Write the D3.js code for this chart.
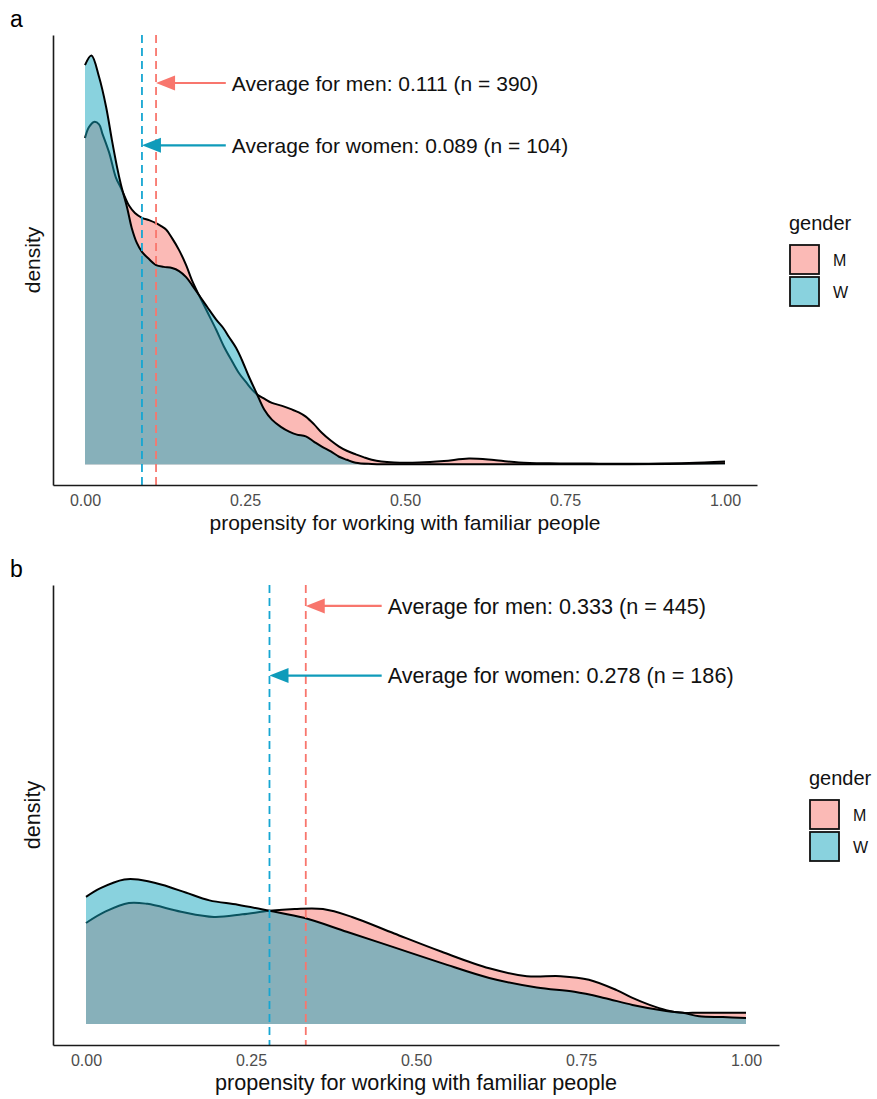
<!DOCTYPE html>
<html lang="en">
<head>
    <meta charset="UTF-8">
    <title>Propensity density by gender</title>
    <script src="https://d3js.org/d3.v7.min.js"></script>
    <style>
        body { margin: 0; background: #fff; }
        svg { display: block; font-family: "Liberation Sans", Arial, sans-serif; }
        .tick text { fill: #4d4d4d; }
    </style>
</head>
<body>
<svg id="chart" width="877" height="1099"></svg>
<script>
    // ---- data ----
    const genders = ["M", "W"];
    const genderWords = ["men", "women"];
    const tickValues = [0, 0.25, 0.5, 0.75, 1];
    const tickLabels = ["0.00", "0.25", "0.50", "0.75", "1.00"];

    // panel a densities: [x, density]
    const menA = [[0,5.45],[0.006,5.63],[0.014,5.72],[0.022,5.68],[0.027,5.53],[0.038,5.20],[0.048,4.80],
        [0.056,4.62],[0.063,4.45],[0.069,4.32],[0.078,4.20],[0.089,4.12],[0.100,4.08],[0.111,4.03],
        [0.119,3.98],[0.127,3.92],[0.136,3.78],[0.147,3.58],[0.158,3.33],[0.167,3.08],[0.178,2.83],
        [0.191,2.55],[0.205,2.25],[0.217,1.97],[0.230,1.72],[0.241,1.52],[0.252,1.37],[0.261,1.25],
        [0.269,1.17],[0.280,1.10],[0.292,1.03],[0.308,0.98],[0.323,0.92],[0.334,0.87],[0.345,0.80],
        [0.358,0.67],[0.370,0.53],[0.384,0.40],[0.397,0.30],[0.409,0.23],[0.423,0.17],[0.436,0.12],
        [0.448,0.08],[0.463,0.05],[0.483,0.035],[0.522,0.035],[0.561,0.06],[0.600,0.10],[0.639,0.075],
        [0.678,0.035],[0.725,0.02],[0.803,0.015],[0.881,0.015],[0.944,0.025],[1.0,0.05]];
    const womenA = [[0,6.67],[0.010,6.83],[0.022,6.47],[0.033,5.97],[0.042,5.42],[0.050,4.97],[0.056,4.68],
        [0.066,4.28],[0.073,3.95],[0.081,3.70],[0.089,3.55],[0.100,3.43],[0.111,3.33],[0.123,3.30],
        [0.136,3.28],[0.147,3.23],[0.158,3.13],[0.167,3.00],[0.178,2.83],[0.191,2.63],[0.205,2.42],
        [0.216,2.28],[0.225,2.13],[0.236,1.95],[0.245,1.75],[0.256,1.47],[0.269,1.17],[0.280,0.92],
        [0.292,0.75],[0.306,0.63],[0.319,0.55],[0.331,0.50],[0.345,0.47],[0.358,0.38],[0.370,0.30],
        [0.384,0.22],[0.397,0.13],[0.409,0.08],[0.423,0.03],[0.448,0.01],[0.55,0.005],[0.7,0.005],
        [0.85,0.005],[1.0,0.02]];

    // panel b densities: [x, density]
    const menB = [[0,1.16],[0.029,1.29],[0.065,1.39],[0.093,1.38],[0.144,1.29],[0.194,1.23],[0.237,1.26],
        [0.278,1.30],[0.316,1.32],[0.359,1.32],[0.403,1.23],[0.467,1.04],[0.539,0.83],[0.611,0.64],
        [0.668,0.55],[0.719,0.55],[0.762,0.51],[0.804,0.39],[0.828,0.30],[0.854,0.22],[0.879,0.16],
        [0.904,0.13],[0.929,0.13],[1.0,0.13]];
    const womenB = [[0,1.46],[0.022,1.56],[0.058,1.66],[0.079,1.66],[0.115,1.60],[0.151,1.51],[0.187,1.42],
        [0.230,1.37],[0.278,1.30],[0.330,1.22],[0.395,1.06],[0.467,0.88],[0.539,0.70],[0.611,0.53],
        [0.683,0.42],[0.740,0.37],[0.785,0.30],[0.828,0.22],[0.879,0.15],[0.904,0.13],[0.929,0.09],
        [0.965,0.08],[1.0,0.07]];

    // averages, counts and annotation placement (arrow start x, label y in density units)
    const meansA = [0.111, 0.089];
    const countsA = [390, 104];
    const labelYA = [6.37, 5.33];
    const arrowStartA = 0.22;
    const meansB = [0.333, 0.278];
    const countsB = [445, 186];
    const labelYB = [4.8, 4.0];
    const arrowStartB = 0.448;

    // ---- styling ----
    const fillColors = ["#F8766D", "#13A5BD"];
    const dashColors = ["#F8766D", "#16A6D2"];
    const arrowColors = ["#F8766D", "#0F9BBA"];

    const svg = d3.select("#chart");

    const panels = [
        { tag: "a", series: [menA, womenA], means: meansA, counts: countsA, labelY: labelYA, arrowStart: arrowStartA,
          left: 53, right: 757, top: 35, bottom: 485, font: 21, legendX: 789, legendY: 230 },
        { tag: "b", series: [menB, womenB], means: meansB, counts: countsB, labelY: labelYB, arrowStart: arrowStartB,
          left: 53, right: 779, top: 585, bottom: 1045, font: 21.6, legendX: 809, legendY: 785 }
    ];

    panels.forEach(p => {
        const x = d3.scaleLinear().domain([-0.05, 1.05]).range([p.left, p.right]);
        const maxY = d3.max([...p.series.flat().map(d => d[1]), ...p.labelY]);
        const y = d3.scaleLinear().domain([-0.05 * maxY, 1.05 * maxY]).range([p.bottom, p.top]);

        const g = svg.append("g");

        // densities: men first, women drawn over it
        const area = d3.area().x(d => x(d[0])).y0(y(0)).y1(d => y(d[1])).curve(d3.curveCatmullRom.alpha(0.5));
        const line = d3.line().x(d => x(d[0])).y(d => y(d[1])).curve(d3.curveCatmullRom.alpha(0.5));
        p.series.forEach((s, i) => {
            g.append("path").attr("d", area(s))
                .attr("fill", fillColors[i]).attr("fill-opacity", 0.5);
            g.append("path").attr("d", line(s))
                .attr("fill", "none").attr("stroke", "#000").attr("stroke-width", 2);
        });

        // dashed mean lines
        p.means.forEach((m, i) => {
            g.append("line")
                .attr("x1", x(m)).attr("x2", x(m))
                .attr("y1", p.top).attr("y2", p.bottom)
                .attr("stroke", dashColors[i]).attr("stroke-width", 1.8)
                .attr("stroke-dasharray", "8,5");
        });

        // arrows + labels
        p.means.forEach((m, i) => {
            const yy = y(p.labelY[i]);
            const x0 = x(p.arrowStart), x1 = x(m);
            g.append("line")
                .attr("x1", x0).attr("x2", x1 + 12)
                .attr("y1", yy).attr("y2", yy)
                .attr("stroke", arrowColors[i]).attr("stroke-width", 2.2);
            g.append("path")
                .attr("d", `M${x1},${yy} L${x1 + 19},${yy - 7.5} L${x1 + 19},${yy + 7.5} Z`)
                .attr("fill", arrowColors[i]);
            g.append("text")
                .attr("x", x(p.arrowStart) + 6).attr("y", yy)
                .attr("dy", "0.36em")
                .attr("font-size", p.font)
                .attr("fill", "#111")
                .text(`Average for ${genderWords[i]}: ${m.toFixed(3)} (n = ${p.counts[i]})`);
        });

        // axes
        const xAxis = g.append("g")
            .attr("transform", `translate(0,${p.bottom})`)
            .call(d3.axisBottom(x).tickValues(tickValues).tickFormat((d, i) => tickLabels[i])
                .tickSize(0).tickSizeOuter(0).tickPadding(10));
        xAxis.select(".domain").attr("stroke", "#1a1a1a").attr("stroke-width", 1.6);
        xAxis.selectAll(".tick text").attr("font-size", 16).attr("font-family", "Liberation Sans, Arial, sans-serif");

        const yAxis = g.append("g")
            .attr("transform", `translate(${p.left},0)`)
            .call(d3.axisLeft(y).tickValues([]).tickSizeOuter(0));
        yAxis.select(".domain").attr("stroke", "#1a1a1a").attr("stroke-width", 1.6);

        // axis titles
        g.append("text")
            .attr("x", (p.left + p.right) / 2).attr("y", p.bottom + 45)
            .attr("text-anchor", "middle").attr("font-size", p.font).attr("fill", "#111")
            .text("propensity for working with familiar people");
        g.append("text")
            .attr("transform", `translate(40,${(p.top + p.bottom) / 2}) rotate(-90)`)
            .attr("text-anchor", "middle").attr("font-size", p.font).attr("fill", "#111")
            .text("density");

        // panel tag
        g.append("text")
            .attr("x", 10).attr("y", p.top - 8)
            .attr("font-size", 23).attr("fill", "#000")
            .text(p.tag);

        // legend
        const lg = g.append("g").attr("transform", `translate(${p.legendX},${p.legendY})`);
        lg.append("text").attr("x", 0).attr("y", 0).attr("font-size", 20).attr("fill", "#111").text("gender");
        genders.forEach((gd, i) => {
            lg.append("rect")
                .attr("x", 1).attr("y", 15 + i * 32)
                .attr("width", 29).attr("height", 29)
                .attr("fill", "#fff").attr("stroke", "none");
            lg.append("rect")
                .attr("x", 1).attr("y", 15 + i * 32)
                .attr("width", 29).attr("height", 29)
                .attr("fill", fillColors[i]).attr("fill-opacity", 0.5)
                .attr("stroke", "#111").attr("stroke-width", 1.8);
            lg.append("text")
                .attr("x", 44).attr("y", 15 + i * 32 + 15).attr("dy", "0.35em")
                .attr("font-size", 16).attr("fill", "#111").text(gd);
        });
    });
</script>
</body>
</html>
